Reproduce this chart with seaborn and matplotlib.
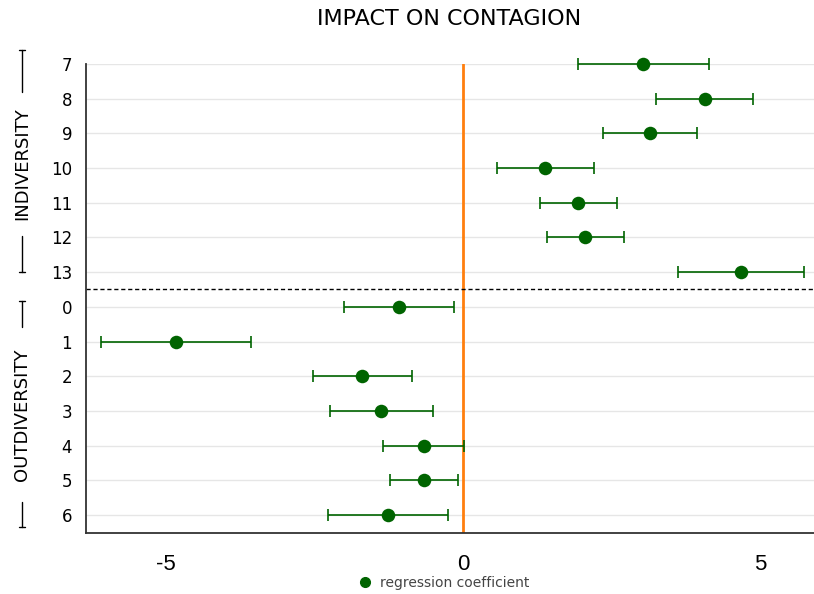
"""
Forest plot of regression coefficients: impact on contagion.
"""

import numpy as np
import pandas as pd
import matplotlib.pyplot as plt
import seaborn as sns
from matplotlib.lines import Line2D

sns.set_style("white")
plt.rcParams["font.family"] = ["DejaVu Sans"]
plt.rcParams["text.color"] = "black"
plt.rcParams["xtick.color"] = "black"
plt.rcParams["ytick.color"] = "black"

# categories from top to bottom
labels = ["7", "8", "9", "10", "11", "12", "13",
          "0", "1", "2", "3", "4", "5", "6"]
coef = [3.03, 4.07, 3.15, 1.38, 1.94, 2.05, 4.68,
        -1.08, -4.83, -1.70, -1.38, -0.66, -0.66, -1.26]
ci_low = [1.94, 3.25, 2.36, 0.57, 1.30, 1.41, 3.62,
          -2.00, -6.09, -2.53, -2.24, -1.35, -1.23, -2.27]
ci_high = [4.14, 4.88, 3.94, 2.21, 2.59, 2.71, 5.74,
           -0.15, -3.57, -0.86, -0.51, 0.02, -0.08, -0.25]
groups = ["INDIVERSITY"] * 7 + ["OUTDIVERSITY"] * 7

GREEN = "#006400"


def main():
    df = pd.DataFrame({"label": labels, "coef": coef,
                       "low": ci_low, "high": ci_high, "group": groups})
    df["pos"] = np.arange(len(df))

    fig = plt.figure(figsize=(8.14, 5.94), dpi=100)
    ax = fig.add_axes([0.1057, 0.1027, 0.8943, 0.7896])

    # grid lines per category
    for p in df["pos"]:
        ax.axhline(p, color="#e6e6e6", lw=1, zorder=0)

    eb = ax.errorbar(df["coef"], df["pos"],
                     xerr=[df["coef"] - df["low"], df["high"] - df["coef"]],
                     fmt="none", ecolor=GREEN, elinewidth=1.2, capsize=4.5,
                     capthick=1.2, zorder=2)
    for art in eb.lines[1] + eb.lines[2]:
        art.set_clip_on(False)
    sns.scatterplot(data=df, x="coef", y="pos", color=GREEN, s=95,
                    edgecolor=GREEN, linewidth=0, zorder=3, ax=ax,
                    legend=False, clip_on=False)

    ax.axvline(0, color="#ff7f0e", lw=2, zorder=1)
    ax.axhline(6.5, color="black", lw=1, ls=(0, (3, 2)), zorder=1)

    ax.set_xlim(-6.35, 5.91)
    ax.set_ylim(13.52, 0)
    ax.set_xticks([-5, 0, 5])
    ax.set_xticklabels(["-5", "0", "5"], family="Liberation Sans", fontsize=16)
    ax.set_yticks(df["pos"])
    ax.set_yticklabels(df["label"], fontsize=12)
    ax.tick_params(axis="x", length=10, color="#e6e6e6", pad=5)
    ax.tick_params(axis="y", length=0, pad=10)
    ax.set_xlabel("")
    ax.set_ylabel("")

    for side in ["top", "right"]:
        ax.spines[side].set_visible(False)
    for side in ["left", "bottom"]:
        ax.spines[side].set_color("#333333")
        ax.spines[side].set_linewidth(1.3)

    fig.text(449 / 814, 1 - 19 / 594, "IMPACT ON CONTAGION", ha="center",
             va="center", fontsize=16)

    # group brackets on the left
    def bracket(y_top, y_bot, t_top, t_bot, text):
        x = 22 / 814
        to_fig = lambda py: 1 - py / 594
        for a, b in [(y_top, t_top), (t_bot, y_bot)]:
            fig.add_artist(Line2D([x, x], [to_fig(a), to_fig(b)],
                                  color="black", lw=1))
        for py in (y_top, y_bot):
            fig.add_artist(Line2D([x - 3 / 814, x + 3 / 814],
                                  [to_fig(py), to_fig(py)], color="black", lw=1))
        fig.text(x, to_fig((t_top + t_bot) / 2), text, rotation=90,
                 ha="center", va="center", fontsize=13)

    bracket(50, 272, 92, 236, "INDIVERSITY")
    bracket(301, 527, 327, 502, "OUTDIVERSITY")

    handle = Line2D([], [], marker="o", color="none", markerfacecolor=GREEN,
                    markeredgecolor=GREEN, markersize=7)
    fig.legend([handle], ["regression coefficient"], loc="center",
               bbox_to_anchor=(0.544, 0.019), frameon=False,
               labelcolor="#444444", handletextpad=0.5, handlelength=1.2,
               prop={"family": "DejaVu Sans", "size": 10})

    fig.savefig("out.png", dpi=100)
    plt.close(fig)


if __name__ == "__main__":
    main()
